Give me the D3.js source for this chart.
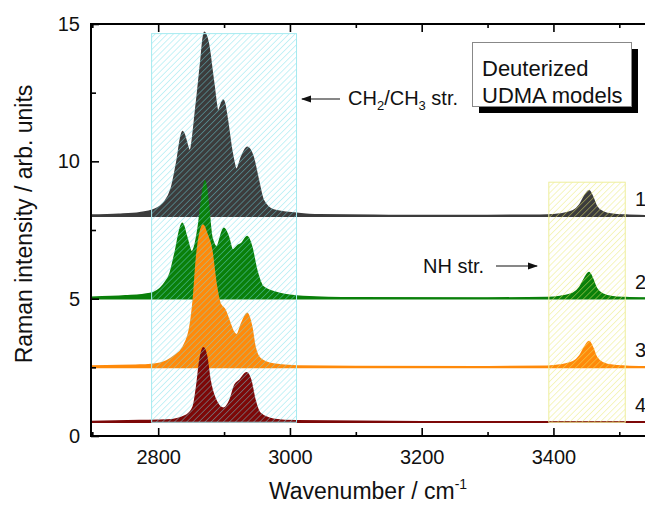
<!DOCTYPE html>
<html>
<head>
<meta charset="utf-8">
<script src="https://cdn.jsdelivr.net/npm/d3@7"></script>
<style>
  html, body { margin: 0; padding: 0; background: #fff; }
  svg { display: block; font-family: "Liberation Sans", Arial, sans-serif; }
</style>
</head>
<body>
<svg id="chart" width="645" height="509"></svg>
<script>
// ---------- data ----------
const seriesLabels = ["1", "2", "3", "4"];
const baselines = [8, 5, 2.5, 0.5];

const series1 = [[2698, 8.04], [2740, 8.07], [2772, 8.13], [2792, 8.23], [2810, 8.53], [2820, 9.02], [2828, 9.93],
  [2837, 11.08], [2848, 10.39], [2858, 12.11], [2864.5, 13.57], [2870, 14.70], [2876, 14.30], [2883.6, 12.96],
  [2891, 11.84], [2899, 12.23], [2905, 11.50], [2911.5, 10.41], [2919, 9.71], [2926.7, 10.17], [2935, 10.51],
  [2944, 10.17], [2952, 9.32], [2959.5, 8.59], [2975, 8.23], [3010, 8.11], [3045, 8.05], [3150, 8.03],
  [3300, 8.03], [3390, 8.04], [3410, 8.08], [3430, 8.20], [3440, 8.42], [3447.6, 8.75], [3454, 8.93],
  [3459.3, 8.72], [3465.4, 8.36], [3475.4, 8.16], [3490, 8.07], [3510, 8.04], [3539, 8.02]];

const series2 = [[2698, 5.05], [2750, 5.10], [2787.6, 5.19], [2807.7, 5.50], [2818, 5.92], [2825.5, 6.65],
  [2836.6, 7.74], [2843, 7.26], [2850.8, 6.71], [2861, 7.62], [2866, 8.59], [2871, 9.29], [2876, 8.47],
  [2881.2, 7.26], [2888.8, 6.89], [2899.8, 7.56], [2906.4, 7.26], [2913, 6.77], [2921.5, 6.95], [2926.7, 7.01],
  [2935.2, 7.26], [2941.9, 6.89], [2949.5, 6.04], [2959.5, 5.43], [2984.8, 5.19], [3020, 5.08], [3100, 5.03],
  [3300, 5.02], [3390, 5.04], [3410, 5.08], [3430, 5.20], [3440, 5.42], [3447.6, 5.75], [3454, 5.95],
  [3459.3, 5.73], [3465.4, 5.37], [3475.4, 5.16], [3490, 5.07], [3510, 5.04], [3539, 5.02]];

const series3 = [[2698, 2.55], [2772, 2.58], [2802.7, 2.65], [2823, 2.89], [2838, 3.25], [2848.3, 3.98],
  [2853.3, 4.95], [2858.4, 6.53], [2863.4, 7.38], [2868, 7.68], [2873.6, 7.38], [2881.2, 6.77], [2887.7, 5.56],
  [2893.8, 4.83], [2901.4, 4.59], [2906.4, 4.28], [2914, 3.80], [2919.1, 3.68], [2926.7, 4.10], [2935.2, 4.47],
  [2941.9, 3.98], [2946.9, 3.25], [2954.5, 2.83], [2974.7, 2.62], [3010, 2.55], [3100, 2.53], [3300, 2.52],
  [3390, 2.54], [3410, 2.58], [3430, 2.70], [3440, 2.92], [3447.6, 3.25], [3454, 3.44], [3459.3, 3.23],
  [3465.4, 2.87], [3475.4, 2.66], [3490, 2.57], [3510, 2.54], [3539, 2.52]];

const series4 = [[2698, 0.53], [2772, 0.56], [2813, 0.58], [2843, 0.76], [2853.3, 1.07], [2858.4, 1.79],
  [2863.4, 2.77], [2868.4, 3.21], [2873.6, 2.89], [2878.6, 2.04], [2886.2, 1.37], [2898.8, 1.01], [2909, 1.31],
  [2916.5, 1.86], [2924.1, 2.04], [2934.3, 2.30], [2940.4, 2.04], [2946.9, 1.31], [2954.5, 0.83],
  [2974.7, 0.61], [3010, 0.55], [3200, 0.52], [3539, 0.52]];

const allSeries = [series1, series2, series3, series4];

const xMajorTicks = [2800, 3000, 3200, 3400];
const xMinorTicks = [2700, 2900, 3100, 3300, 3500];
const yMajorTicks = [0, 5, 10, 15];
const yMinorTicks = [2.5, 7.5, 12.5];

// highlighted regions: [wavenumber from, to, intensity from, to]
const regionCH = [2790, 3010, 0.5, 14.65];
const regionNH = [3393, 3509, 0.5, 9.24];

const xTitle = "Wavenumber / cm";
const xTitleSup = "-1";
const yTitle = "Raman intensity / arb. units";
const boxLines = ["Deuterized", "UDMA models"];

// ---------- styles ----------
const colors = ["#3c3c3c", "#0a800a", "#ff8a0a", "#7d0808"];

const svg = d3.select("#chart");
const x = d3.scaleLinear().domain([2698, 3539]).range([91, 645]);
const y = d3.scaleLinear().domain([0, 15]).range([436, 24]);
const [px0, px1] = x.range();
const [py0, py1] = y.range();

const defs = svg.append("defs");
defs.append("clipPath").attr("id", "plotclip")
  .append("rect").attr("x", px0).attr("y", py1).attr("width", px1 - px0).attr("height", py0 - py1);

function hatch(id, color, op) {
  const p = defs.append("pattern").attr("id", id)
    .attr("patternUnits", "userSpaceOnUse")
    .attr("width", 4.3).attr("height", 10)
    .attr("patternTransform", "rotate(45)");
  p.append("line").attr("x1", 0).attr("y1", 0).attr("x2", 0).attr("y2", 10)
    .attr("stroke", color).attr("stroke-width", 1.2).attr("stroke-opacity", op);
}
hatch("hatchCyan", "#6fdde8", 0.65);
hatch("hatchYellow", "#e8e86a", 0.7);

const plot = svg.append("g").attr("clip-path", "url(#plotclip)");

allSeries.forEach((s, i) => {
  const base = baselines[i];
  const area = d3.area().x(d => x(d[0])).y0(y(base)).y1(d => y(d[1])).curve(d3.curveMonotoneX);
  const line = d3.line().x(d => x(d[0])).y(d => y(d[1])).curve(d3.curveMonotoneX);
  plot.append("path").datum(s).attr("d", area).attr("fill", colors[i]);
  plot.append("path").datum(s).attr("d", line).attr("fill", "none")
    .attr("stroke", colors[i]).attr("stroke-width", 1.6);
  plot.append("line").attr("x1", px0).attr("x2", px1).attr("y1", y(base)).attr("y2", y(base))
    .attr("stroke", colors[i]).attr("stroke-width", 1.6);
});

// hatched regions (drawn over curves)
function region(r, pat, border) {
  plot.append("rect")
    .attr("x", x(r[0])).attr("y", y(r[3]))
    .attr("width", x(r[1]) - x(r[0])).attr("height", y(r[2]) - y(r[3]))
    .attr("fill", `url(#${pat})`).attr("stroke", border).attr("stroke-width", 1);
}
region(regionCH, "hatchCyan", "#a4eaf0");
region(regionNH, "hatchYellow", "#eeee9c");

// ---------- axes ----------
const axisG = svg.append("g");
const fontTick = "20px";

axisG.append("g").attr("transform", `translate(0,${py0})`)
  .call(d3.axisBottom(x).tickValues(xMajorTicks).tickSize(-8).tickPadding(14).tickFormat(d3.format("d")));
axisG.append("g").attr("transform", `translate(0,${py0})`)
  .call(d3.axisBottom(x).tickValues(xMinorTicks).tickSize(-4).tickFormat(""));
axisG.append("g").attr("transform", `translate(0,${py1})`)
  .call(d3.axisTop(x).tickValues(xMajorTicks).tickSize(-8).tickFormat(""));
axisG.append("g").attr("transform", `translate(0,${py1})`)
  .call(d3.axisTop(x).tickValues(xMinorTicks).tickSize(-4).tickFormat(""));
axisG.append("g").attr("transform", `translate(${px0},0)`)
  .call(d3.axisLeft(y).tickValues(yMajorTicks).tickSize(-8).tickPadding(11).tickFormat(d3.format("d")));
axisG.append("g").attr("transform", `translate(${px0},0)`)
  .call(d3.axisLeft(y).tickValues(yMinorTicks).tickSize(-5).tickFormat(""));

axisG.selectAll(".domain").remove();
axisG.selectAll(".tick line").attr("stroke", "#000").attr("stroke-width", 1.6);
axisG.selectAll(".tick text").attr("font-size", fontTick).attr("fill", "#111")
  .attr("font-family", "Liberation Sans, Arial, sans-serif");

// frame lines (left, bottom, top)
axisG.append("path")
  .attr("d", `M${px1 + 2},${py1} L${px0},${py1} L${px0},${py0} L${px1 + 2},${py0}`)
  .attr("fill", "none").attr("stroke", "#000").attr("stroke-width", 2);

// ---------- titles ----------
const xt = svg.append("text").attr("x", 368).attr("y", 499).attr("text-anchor", "middle")
  .attr("font-size", "23px").attr("fill", "#111");
xt.append("tspan").text(xTitle);
xt.append("tspan").text(xTitleSup).attr("font-size", "14px").attr("dy", -10);

svg.append("text").attr("transform", "translate(32,224) rotate(-90)").attr("text-anchor", "middle")
  .attr("font-size", "23px").attr("fill", "#111").text(yTitle);

// series numbers
seriesLabels.forEach((t, i) => {
  svg.append("text").attr("x", 635).attr("y", y(baselines[i]) - 10)
    .attr("font-size", "20px").attr("fill", "#111").text(t);
});

// ---------- annotations ----------
defs.append("marker").attr("id", "arrowhead").attr("viewBox", "0 0 10 10")
  .attr("refX", 9).attr("refY", 5).attr("markerWidth", 10).attr("markerHeight", 10)
  .attr("markerUnits", "userSpaceOnUse").attr("orient", "auto")
  .append("path").attr("d", "M0,1.5 L10,5 L0,8.5 Z").attr("fill", "#111");

svg.append("line").attr("x1", 340).attr("y1", 99).attr("x2", 302).attr("y2", 99)
  .attr("stroke", "#111").attr("stroke-width", 1.2).attr("marker-end", "url(#arrowhead)");
const ch = svg.append("text").attr("x", 348).attr("y", 105).attr("font-size", "20px").attr("fill", "#111");
ch.append("tspan").text("CH");
ch.append("tspan").text("2").attr("font-size", "13px").attr("dy", 5);
ch.append("tspan").text("/CH").attr("dy", -5);
ch.append("tspan").text("3").attr("font-size", "13px").attr("dy", 5);
ch.append("tspan").text("\u00a0str.").attr("dy", -5);

svg.append("text").attr("x", 423).attr("y", 273).attr("font-size", "20px").attr("fill", "#111").text("NH str.");
svg.append("line").attr("x1", 496).attr("y1", 266).attr("x2", 537).attr("y2", 266)
  .attr("stroke", "#111").attr("stroke-width", 1.2).attr("marker-end", "url(#arrowhead)");

// legend box with shadow
svg.append("rect").attr("x", 479).attr("y", 49).attr("width", 159).attr("height", 64).attr("fill", "#000");
svg.append("rect").attr("x", 472.5).attr("y", 42.5).attr("width", 159).attr("height", 64)
  .attr("fill", "#fff").attr("stroke", "#888").attr("stroke-width", 1);
boxLines.forEach((t, i) => {
  svg.append("text").attr("x", 482).attr("y", 76 + i * 27).attr("font-size", "22px").attr("fill", "#111").text(t);
});
</script>
</body>
</html>
